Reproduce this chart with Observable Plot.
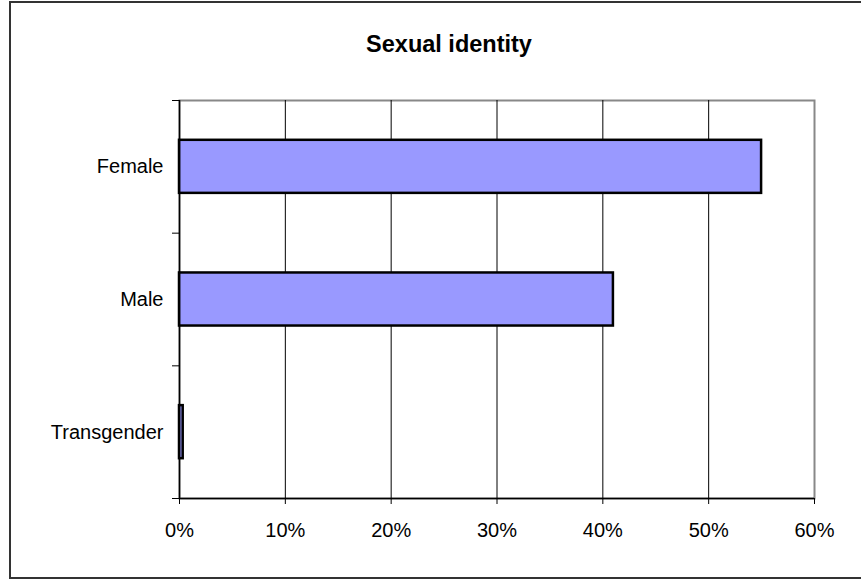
<!DOCTYPE html>
<html>
<head>
<meta charset="utf-8">
<script src="https://cdn.jsdelivr.net/npm/d3@7"></script>
<script src="https://cdn.jsdelivr.net/npm/@observablehq/plot@0.6"></script>
<style>
  html, body { margin: 0; padding: 0; background: #fff; }
  #wrap { position: relative; width: 861px; height: 579px; overflow: hidden; font-family: "Liberation Sans", Arial, sans-serif; }
  #border { position: absolute; left: 9px; top: 1px; width: 900px; height: 578px; box-sizing: border-box; border: 2px solid #333; }
  #title { position: absolute; left: 0; top: 33px; width: 898px; text-align: center; font-weight: bold; font-size: 23.5px; line-height: 23px; color: #000; }
  #chart { position: absolute; left: 0; top: 0; }
</style>
</head>
<body>
<div id="wrap">
  <div id="border"></div>
  <div id="chart"></div>
  <div id="title">Sexual identity</div>
</div>
<script>
const categories = ["Female", "Male", "Transgender"];
const values = [0.55, 0.41, 0.0035];
const xTicks = [0, 0.1, 0.2, 0.3, 0.4, 0.5, 0.6];
const xTickLabels = ["0%", "10%", "20%", "30%", "40%", "50%", "60%"];
const gridTicks = [0.1, 0.2, 0.3, 0.4, 0.5];

const data = categories.map((c, i) => ({category: c, index: i, value: values[i]}));
const boundaries = d3.range(categories.length + 1);
const centers = categories.map((c, i) => i + 0.5);

const chart = Plot.plot({
  width: 861,
  height: 579,
  marginLeft: 179,
  marginRight: 47,
  marginTop: 100,
  marginBottom: 81,
  style: {fontFamily: "Liberation Sans, Arial, sans-serif", fontSize: "20px", background: "transparent", color: "#000"},
  x: {domain: [0, 0.6]},
  y: {domain: [0, categories.length], reverse: true},
  marks: [
    Plot.frame({stroke: "#888", strokeWidth: 2}),
    Plot.ruleX(gridTicks, {stroke: "#000", strokeWidth: 1}),
    Plot.rectX(data, {
      x1: 0,
      x2: "value",
      y1: d => d.index + 0.3,
      y2: d => d.index + 0.7,
      fill: "#9999FF",
      stroke: "#000",
      strokeWidth: 2.5
    }),
    Plot.ruleX([0], {stroke: "#000", strokeWidth: 1.5}),
    Plot.ruleY([categories.length], {stroke: "#000", strokeWidth: 1.5}),
    Plot.axisX({
      ticks: xTicks,
      tickSize: 6,
      tickPadding: 18,
      tickFormat: (d, i) => xTickLabels[i],
      label: null,
      stroke: "#000",
      fill: "#000",
      fontSize: 20
    }),
    Plot.axisY({
      ticks: boundaries,
      tickSize: 7,
      tickFormat: () => "",
      label: null,
      stroke: "#000"
    }),
    Plot.axisY({
      ticks: centers,
      tickSize: 0,
      tickPadding: 16,
      tickFormat: d => categories[Math.floor(d)],
      label: null,
      fill: "#000",
      fontSize: 20
    })
  ]
});
document.getElementById("chart").appendChild(chart);
</script>
</body>
</html>
